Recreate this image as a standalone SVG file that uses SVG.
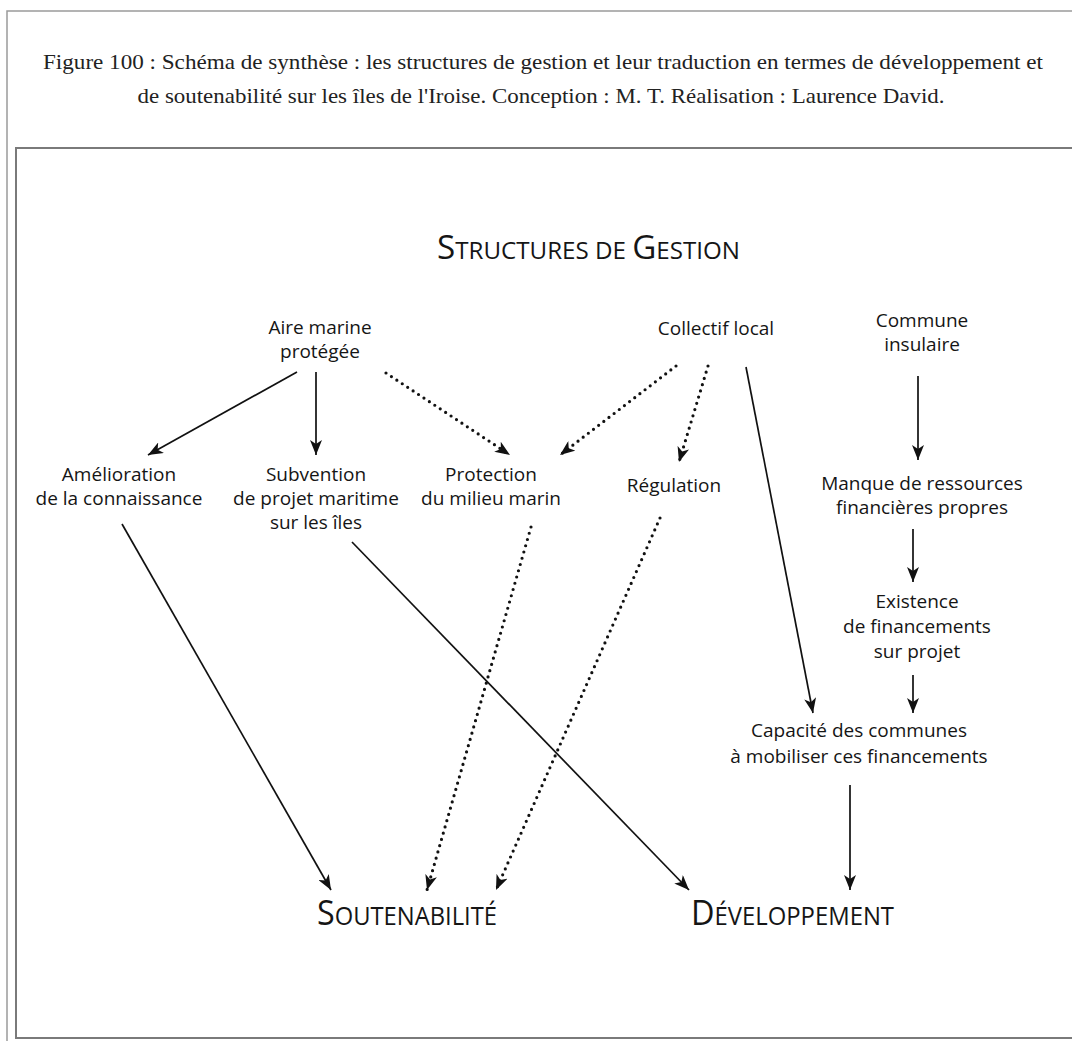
<svg xmlns="http://www.w3.org/2000/svg" width="1072" height="1041" viewBox="0 0 1072 1041">
<style>
.cap{font-family:"Liberation Serif","Times New Roman",serif;font-size:22px;fill:#222;text-anchor:middle}
.n{font-family:"Open Sans","Noto Sans",sans-serif;font-size:19px;fill:#151515;text-anchor:middle}
.h{font-family:"Open Sans","Noto Sans",sans-serif;fill:#151515}
.s{fill:none;stroke:#111;stroke-width:1.7}
.d{fill:none;stroke:#111;stroke-width:3.2;stroke-dasharray:0 6.5;stroke-linecap:round}
</style>
<defs>
<marker id="ah" viewBox="0 0 15 12" refX="15" refY="6" markerWidth="15" markerHeight="12" markerUnits="userSpaceOnUse" orient="auto">
<path d="M0,0 L15,6 L0,12 L4,6 Z" fill="#111"/>
</marker>
</defs>
<rect width="1072" height="1041" fill="#fff"/>
<rect x="7" y="11" width="1100" height="1100" fill="none" stroke="#9a9a9a" stroke-width="1.5"/>
<rect x="16" y="148" width="1100" height="890" fill="none" stroke="#7a7a7a" stroke-width="2"/>
<g id="caption">
<text class="cap" x="543" y="69" textLength="1000" lengthAdjust="spacingAndGlyphs">Figure 100 : Schéma de synthèse : les structures de gestion et leur traduction en termes de développement et</text>
<text class="cap" x="541" y="103" textLength="807" lengthAdjust="spacingAndGlyphs">de soutenabilité sur les îles de l'Iroise. Conception : M. T. Réalisation : Laurence David.</text>
</g>
<g id="structures">
<text class="h" x="437" y="259" textLength="303" lengthAdjust="spacingAndGlyphs"><tspan font-size="33">S</tspan><tspan font-size="24">TRUCTURES DE </tspan><tspan font-size="33">G</tspan><tspan font-size="24">ESTION</tspan></text>
</g>
<g id="aire"><text class="n" x="320" y="334">Aire marine</text><text class="n" x="320" y="358">protégée</text></g>
<g id="collectif"><text class="n" x="716" y="335">Collectif local</text></g>
<g id="commune"><text class="n" x="922" y="327">Commune</text><text class="n" x="922" y="351">insulaire</text></g>
<g id="amelioration"><text class="n" x="119" y="481">Amélioration</text><text class="n" x="119" y="505">de la connaissance</text></g>
<g id="subvention"><text class="n" x="316" y="481">Subvention</text><text class="n" x="316" y="505">de projet maritime</text><text class="n" x="316" y="529">sur les îles</text></g>
<g id="protection"><text class="n" x="491" y="481">Protection</text><text class="n" x="491" y="505">du milieu marin</text></g>
<g id="regulation"><text class="n" x="674" y="492">Régulation</text></g>
<g id="manque"><text class="n" x="922" y="490">Manque de ressources</text><text class="n" x="922" y="514">financières propres</text></g>
<g id="existence"><text class="n" x="917" y="608">Existence</text><text class="n" x="917" y="633">de financements</text><text class="n" x="917" y="658">sur projet</text></g>
<g id="capacite"><text class="n" x="859" y="737">Capacité des communes</text><text class="n" x="859" y="763">à mobiliser ces financements</text></g>
<g id="soutenabilite"><text class="h" x="317" y="925" textLength="180" lengthAdjust="spacingAndGlyphs"><tspan font-size="34">S</tspan><tspan font-size="25">OUTENABILITÉ</tspan></text></g>
<g id="developpement"><text class="h" x="691" y="925" textLength="203" lengthAdjust="spacingAndGlyphs"><tspan font-size="34">D</tspan><tspan font-size="25">ÉVELOPPEMENT</tspan></text></g>
<g id="connectors">
<line class="s" x1="297" y1="372" x2="148" y2="455" marker-end="url(#ah)"/>
<line class="s" x1="316" y1="372" x2="316" y2="455" marker-end="url(#ah)"/>
<line class="d" x1="386" y1="373" x2="510" y2="455" marker-end="url(#ah)"/>
<line class="d" x1="676" y1="366" x2="560" y2="455" marker-end="url(#ah)"/>
<line class="d" x1="708" y1="366" x2="679" y2="462" marker-end="url(#ah)"/>
<line class="s" x1="746" y1="367" x2="813" y2="713" marker-end="url(#ah)"/>
<line class="s" x1="918" y1="376" x2="918" y2="460" marker-end="url(#ah)"/>
<line class="s" x1="913" y1="529" x2="913" y2="582" marker-end="url(#ah)"/>
<line class="s" x1="913" y1="675" x2="913" y2="713" marker-end="url(#ah)"/>
<line class="s" x1="122" y1="524" x2="331" y2="890" marker-end="url(#ah)"/>
<line class="s" x1="352" y1="542" x2="689" y2="890" marker-end="url(#ah)"/>
<line class="d" x1="531" y1="527" x2="427" y2="890" marker-end="url(#ah)"/>
<line class="d" x1="660" y1="518" x2="496" y2="890" marker-end="url(#ah)"/>
<line class="s" x1="850" y1="785" x2="850" y2="890" marker-end="url(#ah)"/>
</g>
</svg>
